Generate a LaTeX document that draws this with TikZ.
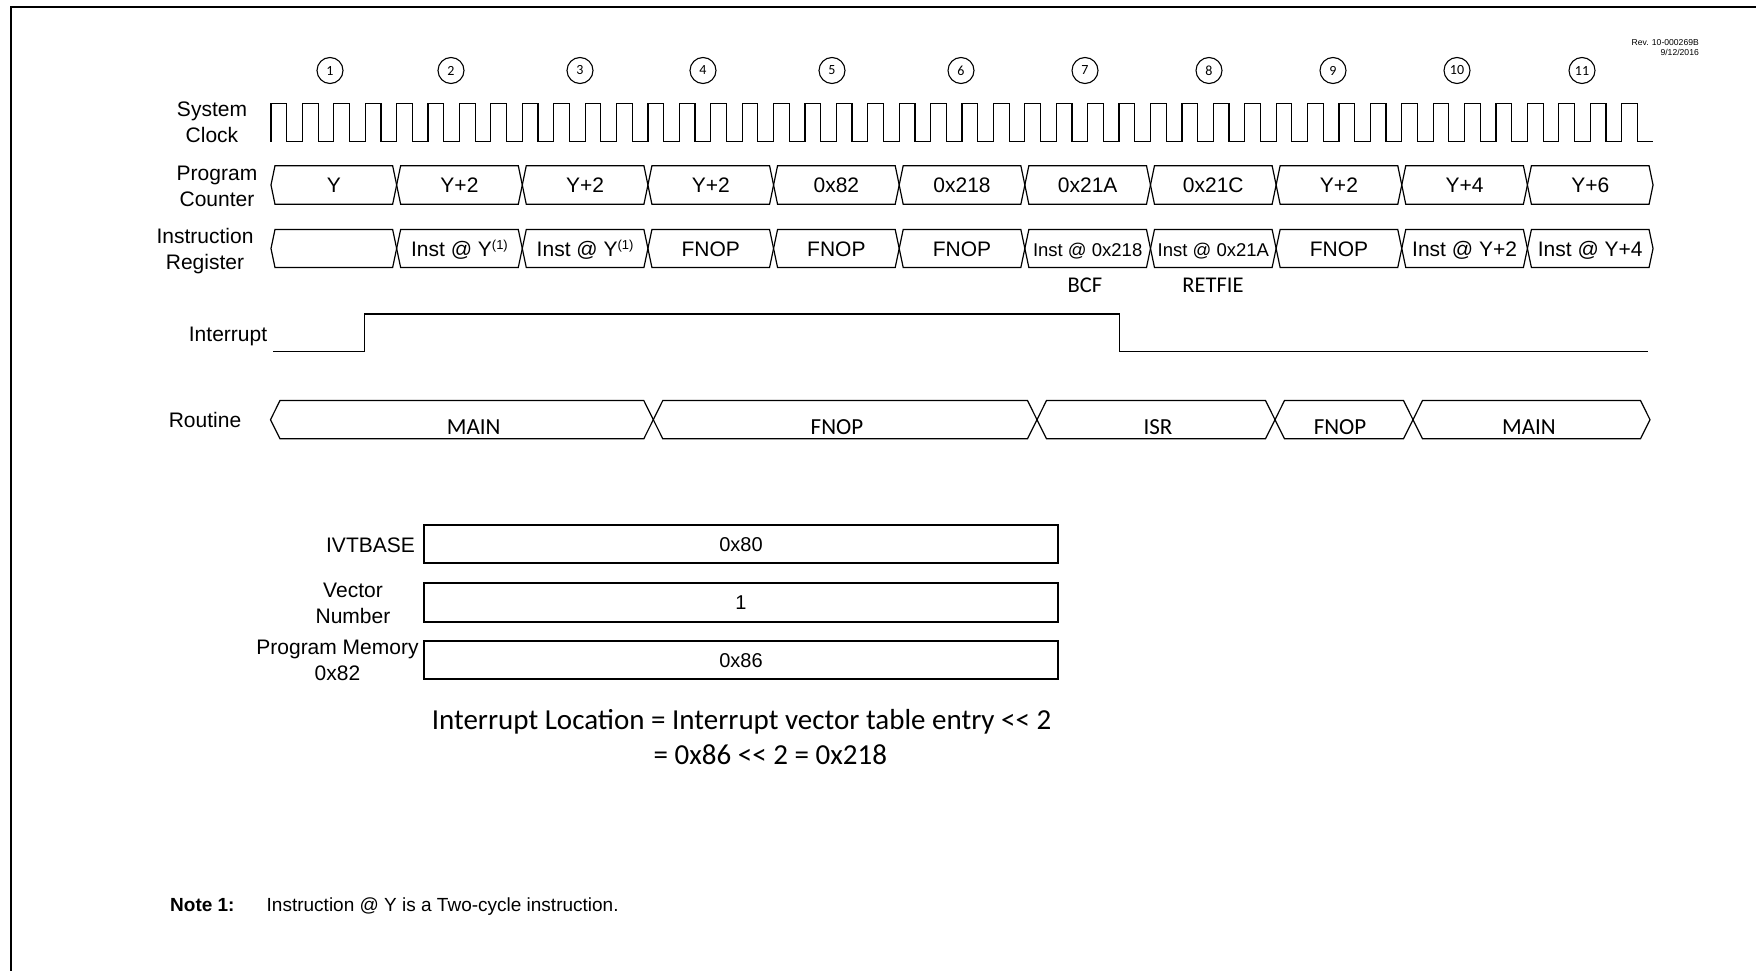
\documentclass[tikz,border=0pt]{standalone}
\usepackage{fontspec}
\setmainfont{Liberation Sans}
\newfontfamily\calfont{Carlito}
\newcommand\refone{{\fontsize{13}{13}\selectfont\raisebox{6.5pt}{(1)}}}
\newcommand\smallinst[1]{{\fontsize{18.5}{20}\selectfont #1}}
\begin{document}
\begin{tikzpicture}[x=1pt,y=-1pt,
  wave/.style={line width=1.2pt, line join=miter},
  bus/.style={line width=1.2pt, line join=miter},
  lbl/.style={font=\fontsize{21}{26}\selectfont, align=center, inner sep=0pt},
  val/.style={font=\fontsize{21}{25}\selectfont, inner sep=0pt, text height=15pt, text depth=0pt},
  cyc/.style={circle, draw, line width=1.1pt, minimum size=26pt, inner sep=0pt, font=\calfont\fontsize{14}{14}\selectfont},
  calv/.style={font=\calfont\fontsize{23}{25}\selectfont, inner sep=0pt, text height=14.8pt, text depth=0pt},
  regbox/.style={draw, line width=1.8pt, minimum width=634pt, inner sep=0pt, font=\fontsize{20}{24}\selectfont, text height=14.3pt, text depth=0pt},
  eqn/.style={font=\calfont\fontsize{29}{32}\selectfont, inner sep=0pt, text height=18.7pt, text depth=0pt},
  note/.style={font=\fontsize{19}{22}\selectfont, inner sep=0pt}
]
\useasboundingbox (0,0) rectangle (1756,971);
% frame
\draw[line width=2pt] (11,971) -- (11,6.7) -- (1756,6.7);
% revision
\node[font=\fontsize{8.6}{10.4}\selectfont, align=right, anchor=east, inner sep=0pt] (rev) at (1699,47.5) {Rev. 10-000269B\\9/12/2016};
% cycle numbers
\foreach \n/\x in {1/330,2/451,3/580,4/703,5/832,6/961,7/1085,8/1209,9/1333,10/1457,11/1582}
  \node[cyc] (c\n) at (\x,70.5) {\n};
% labels
\node[lbl] (sysclk) at (212,122) {System\\Clock};
\node[lbl] (pclbl) at (217,186) {Program\\Counter};
\node[lbl] (irlbl) at (205,251) {Instruction\\Register};
\node[lbl] (intlbl) at (228,336) {Interrupt};
\node[lbl] (rtlbl) at (205,420) {Routine};
% system clock
\draw[wave] (271,141.7) foreach \k in {1,...,44} { -- ++(0,-38.4) -- ++(15.705,0) -- ++(0,38.4) -- ++(15.705,0) };
% program counter
\foreach \i/\t in {1/Y,2/Y+2,3/Y+2,4/Y+2,5/0x82,6/0x218,7/0x21A,8/0x21C,9/Y+2,10/Y+4,11/Y+6} {
  \pgfmathsetmacro\xa{271+125.64*(\i-1)}
  \pgfmathsetmacro\xb{\xa+125.64}
  \draw[bus] (\xa,185) -- (\xa+4,165.7) -- (\xb-4,165.7) -- (\xb,185) -- (\xb-4,204.3) -- (\xa+4,204.3) -- cycle;
  \node[val] (pc\i) at ({(\xa+\xb)/2},185) {\t};
}
% instruction register
\foreach \i/\t in {1/{},2/{Inst @ Y\refone},3/{Inst @ Y\refone},4/FNOP,5/FNOP,6/FNOP,7/{\smallinst{Inst @ 0x218}},8/{\smallinst{Inst @ 0x21A}},9/FNOP,10/{Inst @ Y+2},11/{Inst @ Y+4}} {
  \pgfmathsetmacro\xa{271+125.64*(\i-1)}
  \pgfmathsetmacro\xb{\xa+125.64}
  \draw[bus] (\xa,248.5) -- (\xa+4,229.5) -- (\xb-4,229.5) -- (\xb,248.5) -- (\xb-4,267.5) -- (\xa+4,267.5) -- cycle;
  \node[val] (ir\i) at ({(\xa+\xb)/2},248.5) {\t};
}
\node[calv, font=\calfont\fontsize{22.5}{25}\selectfont] (bcf) at (1085,285) {BCF};
\node[calv, font=\calfont\fontsize{22.5}{25}\selectfont] (retfie) at (1213,285) {RETFIE};
% interrupt
\draw[wave, line width=1.4pt] (273,351.7) -- (364.6,351.7) -- (364.6,314) -- (1119.6,314) -- (1119.6,351.7) -- (1648,351.7);
% routine
\foreach \xa/\xb/\tx/\t/\nm in {270.5/653.3/473.7/MAIN/r1,653.3/1037/837/FNOP/r2,1037/1275/1158/ISR/r3,1275/1413/1340/FNOP/r4,1413/1650/1529/MAIN/r5} {
  \draw[bus] (\xa,419.7) -- (\xa+9.5,400.5) -- (\xb-9.5,400.5) -- (\xb,419.7) -- (\xb-9.5,438.8) -- (\xa+9.5,438.8) -- cycle;
  \node[calv] (\nm) at (\tx,426.7) {\t};
}
% vector table
\node[lbl] (ivtlbl) at (370.5,545) {IVTBASE};
\node[lbl] (vnlbl) at (353,603.4) {Vector\\Number};
\node[lbl] (pmlbl) at (337.5,660.5) {Program Memory\\0x82};
\node[regbox, minimum height=38.3pt] (ivt) at (741,544.2) {0x80};
\node[regbox, minimum height=39pt] (vn) at (741,602.2) {1};
\node[regbox, minimum height=38.3pt] (pm) at (741,659.9) {0x86};
% equation
\node[eqn] (eq1) at (741.6,720) {Interrupt Location = Interrupt vector table entry <\kern0pt< 2};
\node[eqn, anchor=west] (eq2) at (653.5,755) {= 0x86 <\kern0pt< 2 = 0x218};
% note
\node[note, anchor=base west] (note1) at (170,911.8) {\textbf{Note 1:}};
\node[note, anchor=base west] (notetxt) at (266.5,911.8) {Instruction @ Y is a Two-cycle instruction.};
\end{tikzpicture}
\end{document}
